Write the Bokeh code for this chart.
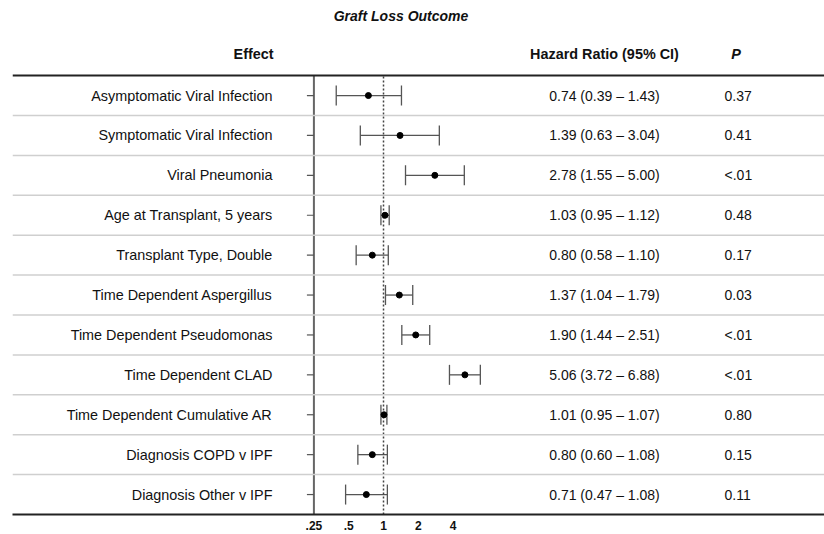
import numpy as np
from bokeh.plotting import figure
from bokeh.models import (Range1d, ColumnDataSource, Whisker, TeeHead, Span,
                          FixedTicker)
from bokeh.core.properties import value
from bokeh.embed import file_html
from bokeh.resources import INLINE

# ---------------- data ----------------
effects = [
    "Asymptomatic Viral Infection",
    "Symptomatic Viral Infection",
    "Viral Pneumonia",
    "Age at Transplant, 5 years",
    "Transplant Type, Double",
    "Time Dependent Aspergillus",
    "Time Dependent Pseudomonas",
    "Time Dependent CLAD",
    "Time Dependent Cumulative AR",
    "Diagnosis COPD v IPF",
    "Diagnosis Other v IPF",
]
hr = [0.74, 1.39, 2.78, 1.03, 0.80, 1.37, 1.90, 5.06, 1.01, 0.80, 0.71]
ci_low = [0.39, 0.63, 1.55, 0.95, 0.58, 1.04, 1.44, 3.72, 0.95, 0.60, 0.47]
ci_high = [1.43, 3.04, 5.00, 1.12, 1.10, 1.79, 2.51, 6.88, 1.07, 1.08, 1.08]
p_values = ["0.37", "0.41", "<.01", "0.48", "0.17", "0.03", "<.01", "<.01",
            "0.80", "0.15", "0.11"]
tick_values = [0.25, 0.5, 1, 2, 4]
tick_labels = [".25", ".5", "1", "2", "4"]

title_text = "Graft Loss Outcome"
header_effect = "Effect"
header_hr = "Hazard Ratio (95% CI)"
header_p = "P"

# ---------------- layout ----------------
n = len(effects)
ys = [n - i for i in range(n)]
hr_text = [f"{h:.2f} ({l:.2f} \u2013 {u:.2f})" for h, l, u in zip(hr, ci_low, ci_high)]

src = ColumnDataSource(dict(y=ys, effect=effects, hr=hr, lo=ci_low, hi=ci_high,
                            hr_text=hr_text, p=p_values))

FONT = value("Liberation Sans")
W, H = 824, 534
ROW_PX = 39.9
BOTTOM_PX = 20

p = figure(width=W, height=H, x_axis_type="log", y_axis_location=None,
           x_range=Range1d(2 ** -10.661, 2 ** 12.672),
           y_range=Range1d(0.5, 0.5 + (H - BOTTOM_PX) / ROW_PX),
           output_backend="svg", toolbar_location=None,
           min_border_left=12, min_border_right=0, min_border_top=0,
           min_border_bottom=BOTTOM_PX)
p.outline_line_color = None
p.grid.visible = False
p.background_fill_color = "white"
p.border_fill_color = "white"

# x axis
ax = p.xaxis[0]
ax.ticker = FixedTicker(ticks=tick_values, minor_ticks=[])
ax.major_label_overrides = {v: t for v, t in zip(tick_values, tick_labels)}
ax.major_tick_line_color = None
ax.minor_tick_line_color = None
ax.major_tick_out = 0
ax.major_tick_in = 0
ax.major_label_standoff = 6
ax.major_label_text_font = "Liberation Sans"
ax.major_label_text_font_style = "bold"
ax.major_label_text_font_size = "12px"
ax.major_label_text_color = "#111111"
ax.axis_line_color = "#222222"
ax.axis_line_width = 2

# row separators
for yy in ys[:-1]:
    p.add_layout(Span(location=yy - 0.5, dimension="width",
                      line_color="#cfcfcf", line_width=1.5))
# top thick line
p.add_layout(Span(location=n + 0.5, dimension="width",
                  line_color="#222222", line_width=2))

# reference axis line at .25 and dashed line at 1
p.segment(x0=[tick_values[0]], y0=[0.5], x1=[tick_values[0]], y1=[n + 0.5],
          line_color="#666666", line_width=2)
p.segment(x0=[1], y0=[0.5], x1=[1], y1=[n + 0.5],
          line_color="#444444", line_width=1.5, line_dash="2 2")
# small y ticks at .25 line
p.ray(x=tick_values[0], y="y", length=7, length_units="screen", angle=np.pi,
      line_color="#555555", line_width=1.2, source=src)

# confidence intervals
head_kw = dict(size=20, line_color="#555555", line_width=1.3)
w = Whisker(base="y", lower="lo", upper="hi", dimension="width", source=src,
            line_color="#555555", line_width=1.3,
            lower_head=TeeHead(**head_kw), upper_head=TeeHead(**head_kw))
p.add_layout(w)
p.scatter(x="hr", y="y", source=src, marker="circle", size=6,
          fill_color="black", line_color="black")

# text columns
x_label = 2 ** -3.19
x_hr = 2 ** 6.35
x_p = 2 ** 9.80
p.text(x=x_label, y="y", text="effect", source=src, text_font=FONT,
       text_font_size="14.4px", text_align="right", text_baseline="middle",
       text_color="#111111")
p.text(x=x_hr, y="y", text="hr_text", source=src, text_font=FONT,
       text_font_size="14px", text_align="center", text_baseline="middle",
       text_color="#111111")
p.text(x=x_p, y="y", text="p", source=src, text_font=FONT,
       text_font_size="14px", text_align="left", text_baseline="middle",
       text_color="#111111")

# headers
hy = n + 1.03
p.text(x=[2 ** -3.16], y=[hy], text=[header_effect], text_font=FONT,
       text_font_size="14.4px", text_font_style="bold", text_align="right",
       text_baseline="middle", text_color="#111111")
p.text(x=[x_hr], y=[hy], text=[header_hr], text_font=FONT,
       text_font_size="14.4px", text_font_style="bold", text_align="center",
       text_baseline="middle", text_color="#111111")
p.text(x=[2 ** 10.13], y=[hy], text=[header_p], text_font=FONT,
       text_font_size="14.4px", text_font_style="bold italic", text_align="center",
       text_baseline="middle", text_color="#111111")
p.text(x=[2 ** 0.503], y=[n + 2.0], text=[title_text], text_font=FONT,
       text_font_size="14px", text_font_style="bold italic", text_align="center",
       text_baseline="middle", text_color="#111111")

open("out.html", "w").write(file_html(p, INLINE))
